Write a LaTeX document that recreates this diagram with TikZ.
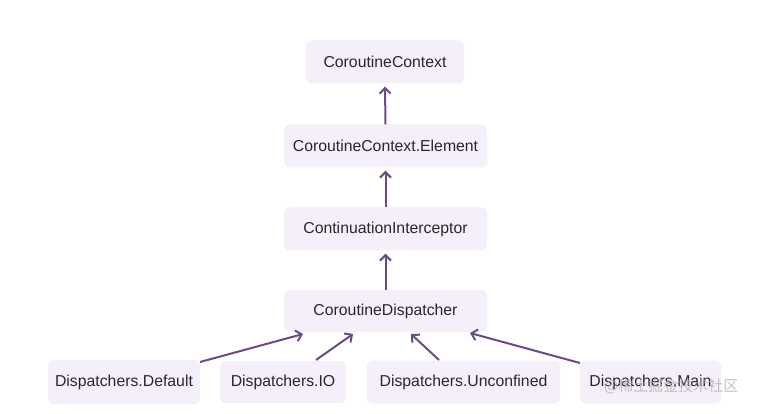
\documentclass[tikz,border=0pt]{standalone}
\usepackage{fontspec}
\setmainfont{Liberation Sans}
\newfontfamily\cjk{Noto Sans CJK SC}
\usetikzlibrary{arrows.meta}
\definecolor{boxfill}{HTML}{F4EFF8}
\definecolor{arrowc}{HTML}{6A4A88}
\definecolor{txt}{HTML}{2A262E}
\begin{document}
\begin{tikzpicture}[x=1pt,y=-1pt,
  cls/.style={fill=boxfill,draw=none,rounded corners=6pt,font=\fontsize{15.8}{18}\selectfont,text=txt,inner sep=0pt,anchor=center},
  inh/.style={draw=arrowc,line width=2pt,-{Straight Barb[length=5.5pt,width=11pt,line width=2pt]}}]
\useasboundingbox (0,0) rectangle (761,414);
\fill[white] (0,0) rectangle (761,414);
\node[cls,minimum width=158pt,minimum height=43pt] (cc) at (385,62) {CoroutineContext};
\node[cls,minimum width=203pt,minimum height=43pt] (el) at (385.5,146) {CoroutineContext.Element};
\node[cls,minimum width=203pt,minimum height=43pt] (ci) at (385.5,229) {ContinuationInterceptor};
\node[cls,minimum width=203pt,minimum height=42pt] (cd) at (385.5,311) {CoroutineDispatcher};
\node[cls,minimum width=152pt,minimum height=44pt] (dd) at (124,382) {Dispatchers.Default};
\node[cls,minimum width=126pt,minimum height=42pt] (io) at (283,382) {Dispatchers.IO};
\node[cls,minimum width=193pt,minimum height=43pt] (un) at (463.5,382) {Dispatchers.Unconfined};
\node[cls,minimum width=141pt,minimum height=43pt] (mn) at (650.5,382) {Dispatchers.Main};
\coordinate (tdd) at (303,334);
\coordinate (tio) at (353,334);
\coordinate (tun) at (411,334);
\coordinate (tmn) at (470,333);
\draw[inh] (el.north) -- ([yshift=-3pt]cc.south);
\draw[inh] (ci.north) -- ([yshift=-3pt]el.south);
\draw[inh] (cd.north) -- ([yshift=-3pt]ci.south);
\draw[inh] (200,362) -- (tdd);
\draw[inh] (316,360) -- (tio);
\draw[inh] (439,360) -- (tun);
\draw[inh] (580,363) -- (tmn);
\node[font=\cjk\fontsize{15}{16}\selectfont,text=gray!60,opacity=0.8,anchor=west,inner sep=0pt] (wm) at (604,386) {@稀土掘金技术社区};
\end{tikzpicture}
\end{document}
